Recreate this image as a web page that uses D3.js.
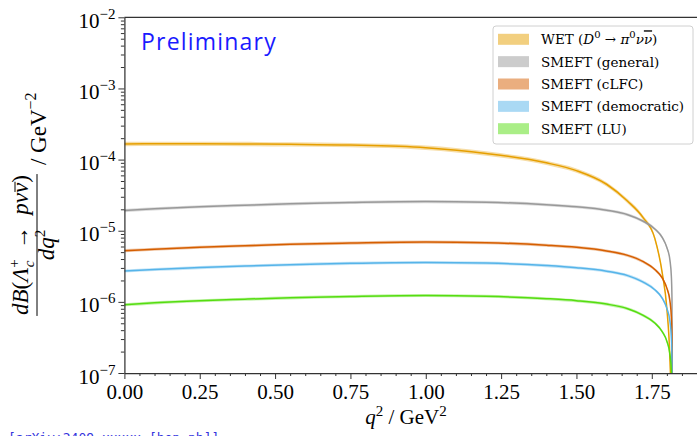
<!DOCTYPE html>
<html>
<head>
<meta charset="utf-8">
<script src="https://cdn.jsdelivr.net/npm/d3@7"></script>
<style>
  body { margin: 0; background: #fff; }
  svg { display: block; }
  .tk text { font-family: "Liberation Serif", serif; font-size: 21px; fill: #000; }
</style>
</head>
<body>
<div id="chart"></div>
<script>
// q^2 grid (GeV^2) the curves were read at
var q2 = [0, 0.1, 0.25, 0.4, 0.55, 0.75, 1.0, 1.2, 1.4, 1.5, 1.6, 1.67, 1.72, 1.76, 1.785, 1.8, 1.81, 1.815, 1.817, 1.8176];

var wetVals     = [1.66e-4, 1.67e-4, 1.67e-4, 1.66e-4, 1.64e-4, 1.60e-4, 1.47e-4, 1.22e-4, 9.0e-5, 7.0e-5, 4.5e-5, 2.6e-5, 1.55e-5, 7.8e-6, 2.5e-6, 8.0e-7, 1.6e-7, 2.5e-8, 2e-9, 1e-9];
var generalVals = [1.92e-5, 2.03e-5, 2.17e-5, 2.28e-5, 2.39e-5, 2.49e-5, 2.57e-5, 2.52e-5, 2.32e-5, 2.17e-5, 1.94e-5, 1.68e-5, 1.37e-5, 1.06e-5, 8.0e-6, 5.8e-6, 3.9e-6, 2.25e-6, 1.08e-6, 1e-9];
var clfcVals    = [5.25e-6, 5.5e-6, 5.85e-6, 6.15e-6, 6.45e-6, 6.7e-6, 6.92e-6, 6.78e-6, 6.25e-6, 5.85e-6, 5.2e-6, 4.5e-6, 3.7e-6, 2.85e-6, 2.15e-6, 1.56e-6, 1.04e-6, 6.0e-7, 2.9e-7, 1e-9];
var democVals   = [2.72e-6, 2.85e-6, 3.03e-6, 3.19e-6, 3.33e-6, 3.48e-6, 3.58e-6, 3.51e-6, 3.24e-6, 3.02e-6, 2.7e-6, 2.34e-6, 1.91e-6, 1.48e-6, 1.12e-6, 8.1e-7, 5.4e-7, 3.1e-7, 1.5e-7, 1e-9];
var luVals      = [9.1e-7, 9.7e-7, 1.04e-6, 1.09e-6, 1.14e-6, 1.19e-6, 1.23e-6, 1.2e-6, 1.11e-6, 1.04e-6, 9.3e-7, 8.0e-7, 6.5e-7, 5.05e-7, 3.8e-7, 2.8e-7, 1.85e-7, 1.07e-7, 5.2e-8, 1e-9];

// relative half width of the uncertainty bands
var bandErr = [0.07, 0.05, 0.05, 0.05, 0.05];

var seriesNames = ["WET", "SMEFT (general)", "SMEFT (cLFC)", "SMEFT (democratic)", "SMEFT (LU)"];
var seriesColors = ["#E69F00", "#999999", "#D55E00", "#56B4E9", "#55DD10"];

var xMajor = [0, 0.25, 0.5, 0.75, 1.0, 1.25, 1.5, 1.75];
var yExps = [-7, -6, -5, -4, -3, -2];

var W = 697, H = 436;
var plotL = 124.4, plotR = 697, plotT = 17.3, plotB = 373;

var svg = d3.select("#chart").append("svg").attr("width", W).attr("height", H);

var x = d3.scaleLinear().domain([0, 1.9]).range([plotL, plotR]);
var y = d3.scaleLog().domain([1e-7, 1e-2]).range([plotB, plotT]);

svg.append("clipPath").attr("id", "clip")
  .append("rect").attr("x", plotL).attr("y", plotT).attr("width", plotR - plotL).attr("height", plotB - plotT);

var allVals = [wetVals, generalVals, clfcVals, democVals, luVals];
var plotG = svg.append("g").attr("clip-path", "url(#clip)");

allVals.forEach(function(vals, i) {
  var pts = q2.map(function(q, j) { return {q: q, v: vals[j]}; });
  var e = bandErr[i];
  var band = d3.area()
    .x(function(d) { return x(d.q); })
    .y0(function(d) { return y(d.v * (1 - e)); })
    .y1(function(d) { return y(d.v * (1 + e)); })
    .curve(d3.curveMonotoneX);
  var line = d3.line()
    .x(function(d) { return x(d.q); })
    .y(function(d) { return y(d.v); })
    .curve(d3.curveMonotoneX);
  plotG.append("path").attr("d", band(pts))
    .attr("fill", seriesColors[i]).attr("fill-opacity", 0.35);
  plotG.append("path").attr("d", line(pts))
    .attr("fill", "none").attr("stroke", seriesColors[i]).attr("stroke-width", 1.5);
});

// x axis, major + minor ticks
var xMinor = d3.range(0, 1.9001, 0.05).filter(function(v) { return Math.abs(v / 0.25 - Math.round(v / 0.25)) > 1e-6; });
svg.append("g").attr("class", "tk").attr("transform", "translate(0," + plotB + ")")
  .call(d3.axisBottom(x).tickValues(xMinor).tickSize(3).tickFormat(""))
  .call(function(g) { g.select(".domain").remove(); g.selectAll("line").attr("stroke", "#333"); });
var xAx = svg.append("g").attr("class", "tk").attr("transform", "translate(0," + plotB + ")")
  .call(d3.axisBottom(x).tickValues(xMajor).tickSize(6).tickSizeOuter(0).tickFormat(d3.format(".2f")));
xAx.select(".domain").attr("stroke", "#333").attr("stroke-width", 1.25);
xAx.selectAll("line").attr("stroke", "#333");
xAx.selectAll("text").attr("dy", "0.8em");

// y axis (log) with minor ticks
var yMinor = [];
for (var k = -7; k < -2; k++) for (var m = 2; m <= 9; m++) yMinor.push(m * Math.pow(10, k));
svg.append("g").attr("class", "tk").attr("transform", "translate(" + plotL + ",0)")
  .call(d3.axisLeft(y).tickValues(yMinor).tickSize(3.5).tickFormat(""))
  .call(function(g) { g.select(".domain").remove(); g.selectAll("line").attr("stroke", "#333"); });
var yAx = svg.append("g").attr("class", "tk").attr("transform", "translate(" + plotL + ",0)")
  .call(d3.axisLeft(y).tickValues(yExps.map(function(e) { return Math.pow(10, e); })).tickSize(6).tickSizeOuter(0).tickFormat(""));
yAx.select(".domain").attr("stroke", "#333").attr("stroke-width", 1.25);
yAx.selectAll("line").attr("stroke", "#333");
yAx.selectAll(".tick text").attr("dy", "0.48em").each(function(d) {
  var t = d3.select(this);
  var ex = Math.round(Math.log10(d));
  t.append("tspan").text("10");
  t.append("tspan").attr("dy", -9).attr("font-size", 15).text("\u2212" + (-ex));
});

// top spine
svg.append("line").attr("x1", plotL).attr("x2", plotR).attr("y1", plotT).attr("y2", plotT)
  .attr("stroke", "#333").attr("stroke-width", 1.25);

// x label
var xl = svg.append("text").attr("x", 406).attr("y", 424).attr("text-anchor", "middle")
  .style("font-family", "Liberation Serif, serif").style("font-size", "21px");
xl.append("tspan").attr("font-style", "italic").text("q");
xl.append("tspan").attr("dy", -8).attr("font-size", 15).text("2");
xl.append("tspan").attr("dy", 8).text(" / GeV");
xl.append("tspan").attr("dy", -8).attr("font-size", 15).text("2");

// y label: fraction, rotated
var yl = svg.append("g").attr("transform", "rotate(-90)")
  .style("font-family", "Liberation Serif, serif").style("font-size", "23px");
var cy = 245;
var num = yl.append("text").attr("x", -cy).attr("y", 28).attr("text-anchor", "middle");
num.append("tspan").attr("font-style", "italic").text("d");
num.append("tspan").attr("font-style", "italic").text("B");
num.append("tspan").text("(");
num.append("tspan").attr("font-style", "italic").text("\u039B");
num.append("tspan").attr("dy", -9).attr("font-size", 15).text("+");
num.append("tspan").attr("dx", -8).attr("dy", 15).attr("font-size", 15).attr("font-style", "italic").text("c");
num.append("tspan").attr("dy", -6).text("\u2002\u2192\u2002");
num.append("tspan").attr("font-style", "italic").text("p\u03BD\u03BD");
num.append("tspan").text(")");
// bar over the last nu
var nn = num.node();
var p0 = nn.getStartPositionOfChar(11), p1 = nn.getEndPositionOfChar(11);
yl.append("line").attr("x1", p0.x + 1).attr("x2", p1.x + 1).attr("y1", p0.y - 13).attr("y2", p0.y - 13)
  .attr("stroke", "#000").attr("stroke-width", 1);
var nb = nn.getBBox();
yl.append("line").attr("x1", nb.x - 1).attr("x2", nb.x + nb.width + 1).attr("y1", 37).attr("y2", 37)
  .attr("stroke", "#000").attr("stroke-width", 1);
var den = yl.append("text").attr("x", -cy).attr("y", 54).attr("text-anchor", "middle");
den.append("tspan").attr("font-style", "italic").text("dq");
den.append("tspan").attr("dy", -9).attr("font-size", 15).text("2");
var unit = yl.append("text").attr("x", nb.x + nb.width + 10).attr("y", 46);
unit.append("tspan").text("/ GeV");
unit.append("tspan").attr("dy", -10).attr("font-size", 16).text("\u22122");

// Preliminary
svg.append("text").attr("x", 141).attr("y", 50).text("Preliminary")
  .style("font-family", "Open Sans, sans-serif").style("font-size", "23px").style("letter-spacing", "1.2px").attr("fill", "#1a1aff");

// legend
var lg = svg.append("g");
lg.append("rect").attr("x", 493).attr("y", 26).attr("width", 200).attr("height", 118).attr("rx", 3)
  .attr("fill", "#fff").attr("fill-opacity", 0.8).attr("stroke", "#d0d0d0");
seriesNames.forEach(function(name, i) {
  var ry = 39.3 + i * 22.35;
  lg.append("rect").attr("x", 498).attr("y", ry - 5.5).attr("width", 31).attr("height", 11)
    .attr("fill", seriesColors[i]).attr("fill-opacity", 0.5);
  var t = lg.append("text").attr("x", 541).attr("y", ry + 5)
    .style("font-family", "DejaVu Serif, serif").style("font-size", "13.5px");
  if (i === 0) {
    t.append("tspan").text("WET (");
    t.append("tspan").attr("font-style", "italic").text("D");
    t.append("tspan").attr("dy", -6).attr("font-size", 10).text("0");
    t.append("tspan").attr("dy", 6).text(" \u2192 ");
    t.append("tspan").attr("font-style", "italic").text("\u03C0");
    t.append("tspan").attr("dy", -6).attr("font-size", 10).text("0");
    t.append("tspan").attr("dy", 6).attr("font-style", "italic").text("\u03BD");
    t.append("tspan").attr("font-style", "italic").style("text-decoration", "overline").text("\u03BD");
    t.append("tspan").text(")");
  } else {
    t.text(name);
  }
});

// reference line at bottom, cut off by the frame as in the original
svg.append("text").attr("x", 8).attr("y", 442).text("[arXiv:2409.xxxxx [hep-ph]]")
  .style("font-family", "DejaVu Sans Mono, monospace").style("font-size", "13px").attr("fill", "#3333dd");
</script>
</body>
</html>
